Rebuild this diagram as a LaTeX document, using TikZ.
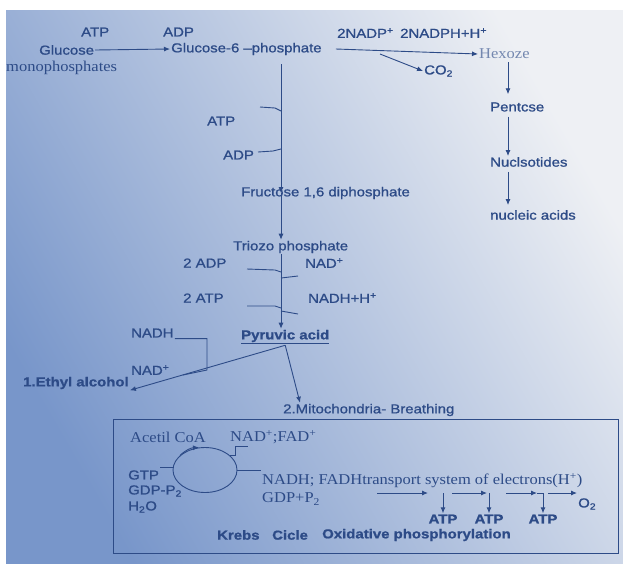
\documentclass[tikz,border=0pt]{standalone}
\usepackage{fontspec}
\setmainfont[FakeStretch=1.15,FakeBold=1]{Liberation Sans}
\newfontfamily\rmtext[FakeStretch=1.1]{Liberation Serif}
\usetikzlibrary{arrows.meta,shapes.geometric}
\definecolor{ink}{RGB}{45,75,135}
\definecolor{faint}{RGB}{115,135,175}
\definecolor{bgleft}{RGB}{120,150,202}
\definecolor{bgmid}{RGB}{212,222,236}
\definecolor{bgright}{RGB}{238,240,244}
\begin{document}
\begin{tikzpicture}[x=1pt,y=-1pt,
  lbl/.style={anchor=west,inner sep=1pt,text=ink,font=\fontsize{13}{15}\selectfont},
  boldlbl/.style={lbl,font=\bfseries\fontsize{13}{15}\selectfont},
  rlbl/.style={anchor=west,inner sep=1pt,text=ink,font=\rmtext\fontsize{15}{17}\selectfont},
  ln/.style={draw=ink,line width=0.9pt},
  arr/.style={ln,-{Latex[length=6pt,width=5pt]}}]
\useasboundingbox (0,0) rectangle (623,563);
\shade[left color=bgleft,middle color=bgmid,right color=bgright,shading angle=120] (6,10) rectangle (623,563);
\node[lbl] (atpA) at (80,32) {ATP};
\node[lbl] (adpA) at (162,32) {ADP};
\node[lbl] (gluc) at (38,50) {Glucose};
\node[rlbl] (mono) at (5,68) {monophosphates};
\node[lbl] (g6p) at (170,49) {Glucose-6 --phosphate};
\node[lbl] (nadp) at (336,33) {2NADP\textsuperscript{+}};
\node[lbl] (nadph) at (399,33) {2NADPH+H\textsuperscript{+}};
\node[rlbl,text=faint] (hex) at (478,54) {Hexoze};
\node[lbl] (co2) at (423,71) {CO\textsubscript{2}};
\node[lbl] (pent) at (489,107) {Pentcse};
\node[lbl] (nucl) at (489,162) {Nuclsotides};
\node[lbl] (nuca) at (489,215) {nucleic acids};
\node[lbl] (atpB) at (206,121) {ATP};
\node[lbl] (adpB) at (222,155) {ADP};
\node[lbl] (fru) at (240,193) {Fructose 1,6 diphosphate};
\node[lbl] (trio) at (232,247) {Triozo phosphate};
\node[lbl] (adp2) at (182,263) {2 ADP};
\node[lbl] (nad1) at (304,263) {NAD\textsuperscript{+}};
\node[lbl] (atp2) at (182,298) {2 ATP};
\node[lbl] (nadh1) at (307,298) {NADH+H\textsuperscript{+}};
\node[boldlbl] (pyr) at (240,337) {\underline{Pyruvic acid}};
\node[lbl] (nadhL) at (130,333) {NADH};
\node[lbl] (nadL) at (130,370) {NAD\textsuperscript{+}};
\node[boldlbl] (eth) at (22,383) {1.Ethyl alcohol};
\node[lbl] (mito) at (282,410) {2.Mitochondria- Breathing};
\draw[ln] (113,419) rectangle (618,553);
\node[rlbl] (acet) at (129,437) {Acetil CoA};
\node[rlbl] (nadfad) at (229,437) {NAD\textsuperscript{+};FAD\textsuperscript{+}};
\node[ellipse,ln,minimum width=64pt,minimum height=45pt] (kc) at (205,470) {};
\node[lbl] (gtp) at (127,475) {GTP};
\node[lbl] (gdp) at (127,491) {GDP-P\textsubscript{2}};
\node[lbl] (h2o) at (127,507) {H\textsubscript{2}O};
\node[rlbl] (etc) at (261,481) {NADH; FADHtransport system of electrons(H\textsuperscript{+})};
\node[rlbl] (gdpp) at (261,499) {GDP+P\textsubscript{2}};
\node[boldlbl,anchor=center] (atpc1) at (443,519) {ATP};
\node[boldlbl,anchor=center] (atpc2) at (489,519) {ATP};
\node[boldlbl,anchor=center] (atpc3) at (543,519) {ATP};
\node[lbl] (o2) at (577,504) {O\textsubscript{2}};
\node[boldlbl] (krebs) at (216,535) {Krebs};
\node[boldlbl] (cicle) at (271,535) {Cicle};
\node[boldlbl] (oxph) at (321,535) {Oxidative phosphorylation};
\draw[arr] (gluc.east) -- (g6p.west);
\draw[arr] ([xshift=13pt]g6p.east) -- (hex.west);
\coordinate (br) at (380,54);
\draw[arr] (br) -- (co2.west);
\coordinate (col) at (508,0);
\draw[arr,shorten <=2pt,shorten >=7pt] (hex.south -| col) -- (pent.north -| col);
\draw[arr,shorten <=4pt] (pent.south -| col) -- (nucl.north -| col);
\draw[arr,shorten <=4pt,shorten >=4pt] (nucl.south -| col) -- (nuca.north -| col);
\coordinate (sp) at (281,0);
\draw[arr,shorten <=8pt] (g6p.south -| sp) -- (fru.center -| sp);
\draw[arr] (fru.center -| sp) -- (trio.north -| sp);
\draw[arr] (trio.south -| sp) -- (pyr.north -| sp);
\coordinate (t1) at (260,107);
\draw[ln] (t1) -- ++(15,1) -- ([yshift=-4pt]t1 -| sp);
\coordinate (t2) at (258,152);
\draw[ln] (t2) -- ++(15,-1) -- ([yshift=3pt]t2 -| sp);
\coordinate (u1) at (247,269);
\draw[ln] (u1) -- ++(28,1) -- ([yshift=-3pt]u1 -| sp);
\coordinate (u2) at (298,276);
\draw[ln] ([yshift=-2pt]u2 -| sp) -- (u2);
\coordinate (u3) at (247,306);
\draw[ln] (u3) -- ++(28,0) -- ([yshift=-2pt]u3 -| sp);
\coordinate (u4) at (298,314);
\draw[ln] ([yshift=3pt]u4 -| sp) -- (u4);
\coordinate (h1) at (207,370);
\coordinate (h2) at (183,375);
\draw[ln] (nadhL.south east) -| (h1) -- (h2);
\draw[arr] (pyr.south) -- (eth.south east);
\draw[arr] (pyr.south) -- ([xshift=18pt]mito.north west);
\draw[arr] (kc.150) to[bend left=20] (kc.105);
\coordinate (n1) at (235,446);
\draw[ln] (kc.30) -| (n1) -- ++(13,0);
\draw[ln] (kc.east) -- (kc.east -| etc.west);
\draw[ln] ([yshift=3pt]kc.west) -- ([yshift=3pt]kc.west -| gtp.east);
\coordinate (e1) at (377,493);
\coordinate (e2) at (428,493);
\coordinate (e3) at (452,493);
\coordinate (e4) at (487,493);
\coordinate (e5) at (506,493);
\coordinate (e6) at (537,493);
\coordinate (e7) at (548,493);
\draw[arr] (e1) -- (e2);
\draw[arr] (e3) -- (e4);
\draw[arr] (e5) -- (e6);
\draw[arr] (e7) -- (e7 -| o2.west);
\draw[arr] (atpc1.north |- e1) -- (atpc1.north);
\draw[arr] (atpc2.north |- e1) -- (atpc2.north);
\draw[arr] (e6) -| (atpc3.north);
\end{tikzpicture}
\end{document}
